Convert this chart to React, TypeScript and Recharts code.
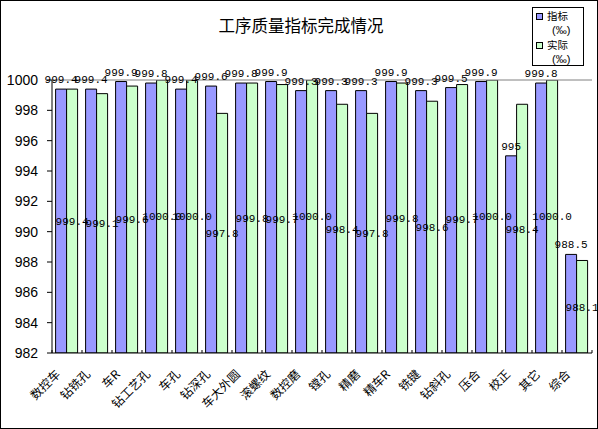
import React from 'react';
import { BarChart, Bar, XAxis, YAxis, ReferenceLine, LabelList } from 'recharts';

const categories = [
  '数控车', '钻铣孔', '车R', '钻工艺孔', '车孔', '钻深孔', '车大外圆', '滚螺纹', '数控磨',
  '镗孔', '精磨', '精车R', '铣键', '钻斜孔', '压合', '校正', '其它', '综合',
];
const targetValues = [
  999.4, 999.4, 999.9, 999.8, 999.4, 999.6, 999.8, 999.9, 999.3,
  999.3, 999.3, 999.9, 999.3, 999.5, 999.9, 995, 999.8, 988.5,
];
const actualValues = [
  999.4, 999.1, 999.6, 1000.0, 1000.0, 997.8, 999.8, 999.7, 1000.0,
  998.4, 997.8, 999.8, 998.6, 999.7, 1000.0, 998.4, 1000.0, 988.1,
];
const yTicks = [982, 984, 986, 988, 990, 992, 994, 996, 998, 1000];
const legendItems = [
  { label: '指标', unit: '(‰)', color: '#9999FF' },
  { label: '实际', unit: '(‰)', color: '#CCFFCC' },
];

const data = categories.map((name, i) => ({
  name,
  target: targetValues[i],
  actual: actualValues[i],
}));

const W = 598;
const H = 429;
const PLOT_LEFT = 52;
const PLOT_RIGHT = 592;
const HALF_BAND = (PLOT_RIGHT - PLOT_LEFT) / categories.length / 2;

const CN_FONT = '"Noto Sans CJK SC", sans-serif';
const NUM_FONT = '"Liberation Mono", monospace';

const CategoryTick = (props: any) => {
  const { x, y, payload, index } = props;
  const last = index === categories.length - 1;
  return (
    <g>
      <line x1={x - HALF_BAND} y1={y} x2={x - HALF_BAND} y2={y - 3} stroke="#000" />
      {last && <line x1={x + HALF_BAND} y1={y} x2={x + HALF_BAND} y2={y - 3} stroke="#000" />}
      <text
        transform={`translate(${x - 6},${y + 22}) rotate(-45)`}
        textAnchor="end"
        fontSize={12}
        fontFamily={CN_FONT}
        fill="#000"
      >
        {payload.value}
      </text>
    </g>
  );
};

// legend drawn as a small boxed overlay, like the spreadsheet original
const LegendBox = () => (
  <div
    style={{
      position: 'absolute', left: 532, top: 7, width: 52, height: 59,
      border: '1px solid #000', background: '#fff', boxSizing: 'border-box', color: '#000',
    }}
  >
    {legendItems.map((item, i) => {
      const top = i * 29;
      return (
        <React.Fragment key={item.label}>
          <span
            style={{
              position: 'absolute', left: 3, top: top + 5, width: 7, height: 7,
              background: item.color, border: '1px solid #000', boxSizing: 'border-box',
            }}
          />
          <span
            style={{
              position: 'absolute', left: 14, top: top + 1, height: 14, lineHeight: '14px',
              fontFamily: CN_FONT, fontSize: 10.5, whiteSpace: 'nowrap',
            }}
          >
            {item.label}
          </span>
          <span
            style={{
              position: 'absolute', left: 19, top: top + 16, height: 13, lineHeight: '13px',
              fontFamily: '"Liberation Sans", Arial, sans-serif', fontSize: 11, whiteSpace: 'nowrap',
            }}
          >
            {item.unit}
          </span>
        </React.Fragment>
      );
    })}
  </div>
);

export default function App() {
  return (
    <div style={{ position: 'absolute', left: 0, top: 0, width: W, height: H, background: '#fff' }}>
      <div
        style={{
          position: 'absolute', left: 0, top: 17, width: 602, textAlign: 'center',
          fontFamily: CN_FONT, fontSize: 16.5, lineHeight: '16px', color: '#000',
        }}
      >
        工序质量指标完成情况
      </div>
      <BarChart
        width={W}
        height={H}
        data={data}
        margin={{ top: 80, right: 6, bottom: 0, left: 0 }}
        barCategoryGap="12%"
        barGap={0}
      >
        <XAxis
          dataKey="name"
          height={76}
          interval={0}
          axisLine={{ stroke: '#000' }}
          tickLine={false}
          tickSize={0}
          tickMargin={0}
          tick={<CategoryTick />}
        />
        <YAxis
          yAxisId="left"
          domain={[982, 1000]}
          ticks={yTicks}
          allowDataOverflow
          width={52}
          axisLine={{ stroke: '#000' }}
          tickLine={{ stroke: '#000' }}
          tickSize={5}
          tickMargin={9}
          tick={{ fill: '#000', fontSize: 14, fontFamily: '"Liberation Sans", Arial, sans-serif' }}
        />
        <YAxis
          yAxisId="right"
          orientation="right"
          domain={[982, 1000]}
          width={0}
          tick={false}
          tickLine={false}
          axisLine={{ stroke: '#808080' }}
        />
        <ReferenceLine yAxisId="left" y={1000} stroke="#808080" />
        <Bar yAxisId="left" dataKey="target" fill="#9999FF" stroke="#000" strokeWidth={1} isAnimationActive={false}>
          <LabelList
            dataKey="target"
            position="top"
            offset={6}
            formatter={(v: any) => String(v)}
            style={{ fontSize: 11, fontFamily: NUM_FONT, fill: '#000' }}
          />
        </Bar>
        <Bar yAxisId="left" dataKey="actual" fill="#CCFFCC" stroke="#000" strokeWidth={1} isAnimationActive={false}>
          <LabelList
            dataKey="actual"
            position="center"
            formatter={(v: any) => Number(v).toFixed(1)}
            style={{ fontSize: 11, fontFamily: NUM_FONT, fill: '#000' }}
          />
        </Bar>
      </BarChart>
      <LegendBox />
      <div
        style={{
          position: 'absolute', left: 0, top: 0, width: W, height: H,
          border: '1px solid #000', boxSizing: 'border-box', pointerEvents: 'none',
        }}
      />
    </div>
  );
}
